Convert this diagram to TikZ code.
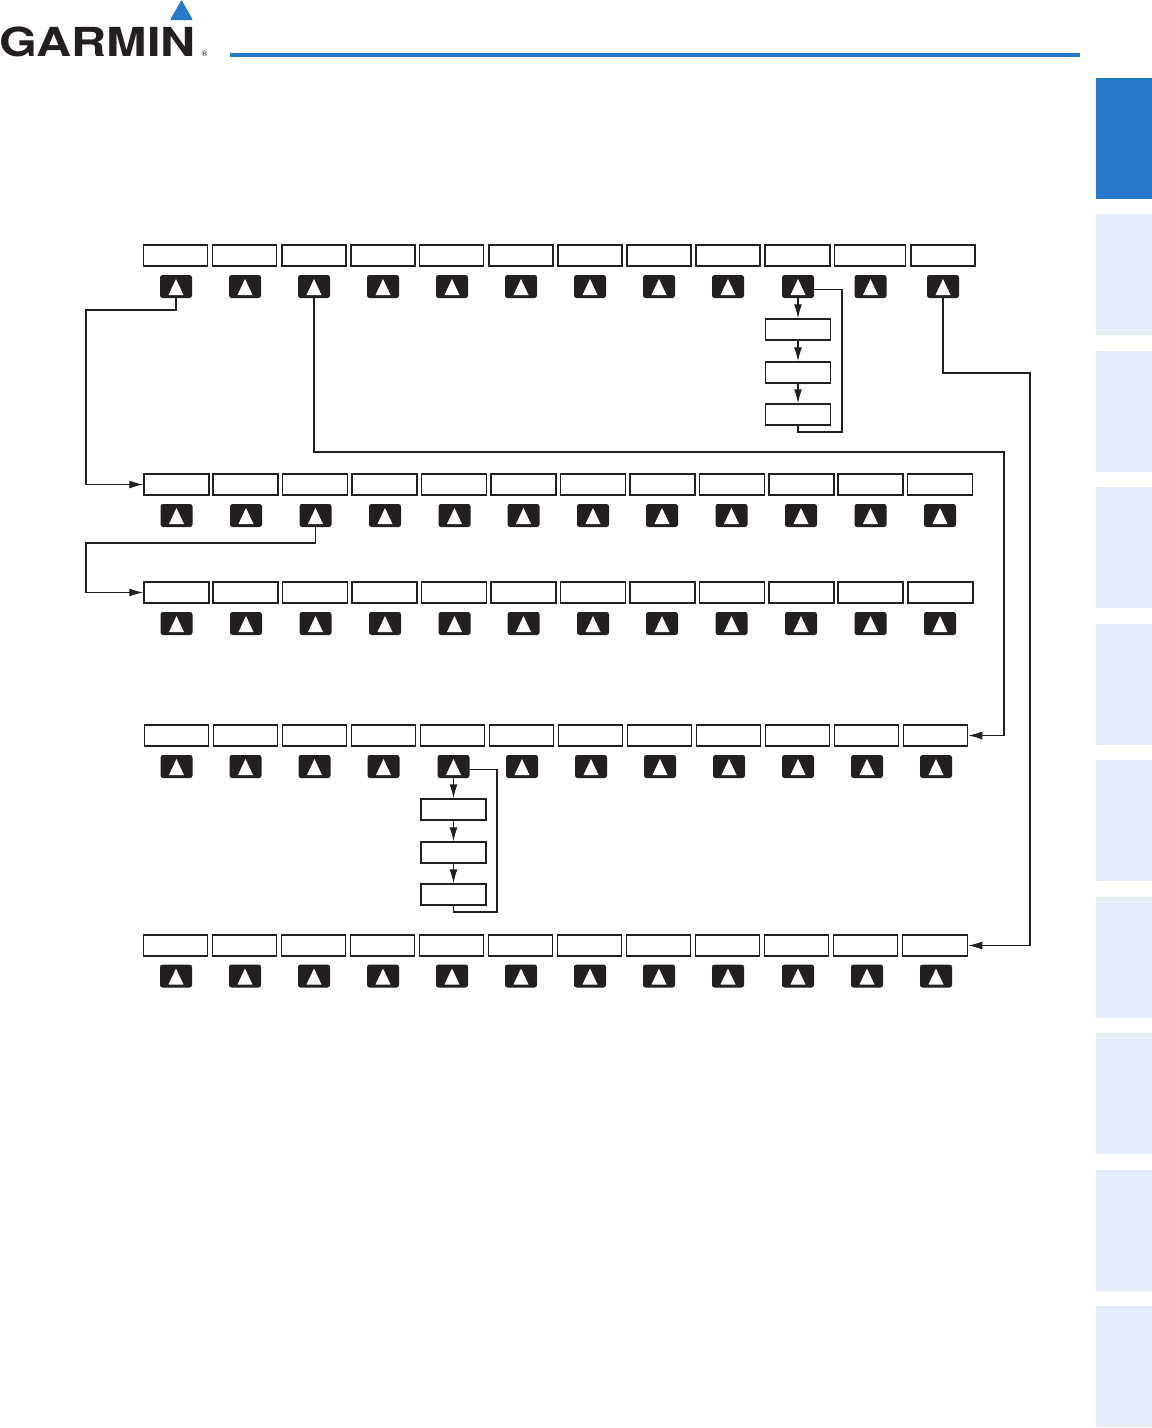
\documentclass[tikz,border=0pt]{standalone}
\usepackage{fontspec}
\usepackage{xcolor}
\usetikzlibrary{arrows.meta}
\setmainfont{TeX Gyre Heros}

\definecolor{inkblack}{HTML}{231F20}
\definecolor{garminblue}{HTML}{2878C8}
\definecolor{tabblue}{HTML}{E6ECF8}

\tikzset{
  softbox/.style={rectangle, draw=inkblack, fill=white, line width=1.5pt, inner sep=0pt, minimum width=64pt, minimum height=21pt},
  softkey/.style={rectangle, fill=inkblack, rounded corners=2.5pt, inner sep=0pt, minimum width=32pt, minimum height=23pt,
    path picture={\fill[white, sharp corners] ([xshift=-7.5pt,yshift=-8.5pt]path picture bounding box.center) -- ([xshift=7.5pt,yshift=-8.5pt]path picture bounding box.center) -- ([yshift=7.5pt]path picture bounding box.center) -- cycle;}},
  link/.style={draw=inkblack, line width=1.1pt},
  linkarrow/.style={link, -{Latex[length=14pt,width=8pt]}},
  sidetab/.style={rectangle, fill=tabblue, inner sep=0pt, minimum width=56pt, anchor=north west}
}

\begin{document}
\begin{tikzpicture}[x=1pt, y=-1pt]
\useasboundingbox (0,0) rectangle (1152,1428);

% header
\node[inner sep=0pt, anchor=base west, xscale=1.215, text=inkblack, font=\fontsize{40}{40}\selectfont\bfseries] (logo) at (-1,56) {GARMIN};
\node[inner sep=0pt, text=inkblack, font=\fontsize{8}{8}\selectfont] (regmark) at (204.5,54) {®};
\fill[garminblue, rounded corners=1pt] (170,20) -- (181.5,0) -- (193,20) -- cycle;
\fill[garminblue] (230,53) rectangle (1080,57);

% side tabs
\node[sidetab, fill=garminblue, minimum height=121pt] (tab1) at (1096,78) {};
\node[sidetab, minimum height=121pt] (tab2) at (1096,214) {};
\node[sidetab, minimum height=121pt] (tab3) at (1096,351) {};
\node[sidetab, minimum height=121pt] (tab4) at (1096,487) {};
\node[sidetab, minimum height=121pt] (tab5) at (1096,624) {};
\node[sidetab, minimum height=121pt] (tab6) at (1096,760) {};
\node[sidetab, minimum height=121pt] (tab7) at (1096,897) {};
\node[sidetab, minimum height=121pt] (tab8) at (1096,1033) {};
\node[sidetab, minimum height=121pt] (tab9) at (1096,1170) {};
\node[sidetab, minimum height=121pt] (tab10) at (1096,1306) {};

% first row
\node[softbox] (a1) at (175.5,255.5) {};
\node[softbox] (a2) at (244.5,255.5) {};
\node[softbox] (a3) at (314,255.5) {};
\node[softbox] (a4) at (383,255.5) {};
\node[softbox] (a5) at (451.5,255.5) {};
\node[softbox] (a6) at (521,255.5) {};
\node[softbox] (a7) at (590,255.5) {};
\node[softbox] (a8) at (659,255.5) {};
\node[softbox] (a9) at (728,255.5) {};
\node[softbox, minimum width=65pt] (a10) at (797.5,255.5) {};
\node[softbox, minimum width=71pt] (a11) at (870,255.5) {};
\node[softbox] (a12) at (943,255.5) {};

\node[softkey] (ka1) at (176,286.5) {};
\node[softkey] (ka2) at (245,286.5) {};
\node[softkey] (ka3) at (314,286.5) {};
\node[softkey] (ka4) at (383,286.5) {};
\node[softkey] (ka5) at (452,286.5) {};
\node[softkey] (ka6) at (521,286.5) {};
\node[softkey] (ka7) at (590,286.5) {};
\node[softkey] (ka8) at (659,286.5) {};
\node[softkey] (ka9) at (728,286.5) {};
\node[softkey] (ka10) at (798,286.5) {};
\node[softkey] (ka11) at (870.5,286.5) {};
\node[softkey] (ka12) at (943,286.5) {};

\node[softbox, minimum width=65pt] (sa1) at (798,329.5) {};
\node[softbox, minimum width=65pt] (sa2) at (798,372.5) {};
\node[softbox, minimum width=65pt] (sa3) at (798,414.5) {};

% second row
\node[softbox, minimum width=65pt] (b1) at (176.5,484.5) {};
\node[softbox, minimum width=65pt] (b2) at (245.5,484.5) {};
\node[softbox, minimum width=65pt] (b3) at (315,484.5) {};
\node[softbox, minimum width=65pt] (b4) at (384.5,484.5) {};
\node[softbox, minimum width=65pt] (b5) at (454,484.5) {};
\node[softbox, minimum width=65pt] (b6) at (523.5,484.5) {};
\node[softbox, minimum width=65pt] (b7) at (593,484.5) {};
\node[softbox, minimum width=65pt] (b8) at (662.5,484.5) {};
\node[softbox, minimum width=65pt] (b9) at (732,484.5) {};
\node[softbox, minimum width=65pt] (b10) at (801.5,484.5) {};
\node[softbox, minimum width=65pt] (b11) at (870.5,484.5) {};
\node[softbox, minimum width=65pt] (b12) at (940,484.5) {};

\node[softkey] (kb1) at (176.5,515.5) {};
\node[softkey] (kb2) at (246,515.5) {};
\node[softkey] (kb3) at (315.5,515.5) {};
\node[softkey] (kb4) at (385,515.5) {};
\node[softkey] (kb5) at (454.5,515.5) {};
\node[softkey] (kb6) at (523.5,515.5) {};
\node[softkey] (kb7) at (593,515.5) {};
\node[softkey] (kb8) at (662,515.5) {};
\node[softkey] (kb9) at (731.5,515.5) {};
\node[softkey] (kb10) at (801,515.5) {};
\node[softkey] (kb11) at (870.5,515.5) {};
\node[softkey] (kb12) at (940,515.5) {};

% third row
\node[softbox, minimum width=65pt] (c1) at (176.5,592.5) {};
\node[softbox, minimum width=65pt] (c2) at (245.5,592.5) {};
\node[softbox, minimum width=65pt] (c3) at (315,592.5) {};
\node[softbox, minimum width=65pt] (c4) at (384.5,592.5) {};
\node[softbox, minimum width=65pt] (c5) at (454,592.5) {};
\node[softbox, minimum width=65pt] (c6) at (523.5,592.5) {};
\node[softbox, minimum width=65pt] (c7) at (593,592.5) {};
\node[softbox, minimum width=65pt] (c8) at (662.5,592.5) {};
\node[softbox, minimum width=65pt] (c9) at (732,592.5) {};
\node[softbox, minimum width=65pt] (c10) at (801.5,592.5) {};
\node[softbox, minimum width=65pt] (c11) at (870.5,592.5) {};
\node[softbox, minimum width=65pt] (c12) at (940.5,592.5) {};

\node[softkey] (kc1) at (176.5,623.5) {};
\node[softkey] (kc2) at (246,623.5) {};
\node[softkey] (kc3) at (315.5,623.5) {};
\node[softkey] (kc4) at (385,623.5) {};
\node[softkey] (kc5) at (454.5,623.5) {};
\node[softkey] (kc6) at (523.5,623.5) {};
\node[softkey] (kc7) at (593,623.5) {};
\node[softkey] (kc8) at (662,623.5) {};
\node[softkey] (kc9) at (731.5,623.5) {};
\node[softkey] (kc10) at (801,623.5) {};
\node[softkey] (kc11) at (870.5,623.5) {};
\node[softkey] (kc12) at (940,623.5) {};

% fourth row
\node[softbox] (d1) at (176.5,735.5) {};
\node[softbox] (d2) at (245.5,735.5) {};
\node[softbox] (d3) at (314.5,735.5) {};
\node[softbox] (d4) at (383.5,735.5) {};
\node[softbox] (d5) at (452.5,735.5) {};
\node[softbox] (d6) at (521.5,735.5) {};
\node[softbox] (d7) at (590.5,735.5) {};
\node[softbox] (d8) at (659.5,735.5) {};
\node[softbox] (d9) at (728.5,735.5) {};
\node[softbox] (d10) at (797.5,735.5) {};
\node[softbox] (d11) at (866.5,735.5) {};
\node[softbox] (d12) at (935.5,735.5) {};

\node[softkey] (kd1) at (176.5,766.5) {};
\node[softkey] (kd2) at (245.5,766.5) {};
\node[softkey] (kd3) at (314.5,766.5) {};
\node[softkey] (kd4) at (383.5,766.5) {};
\node[softkey] (kd5) at (453.5,766.5) {};
\node[softkey] (kd6) at (522,766.5) {};
\node[softkey] (kd7) at (591,766.5) {};
\node[softkey] (kd8) at (660,766.5) {};
\node[softkey] (kd9) at (729,766.5) {};
\node[softkey] (kd10) at (798,766.5) {};
\node[softkey] (kd11) at (867,766.5) {};
\node[softkey] (kd12) at (936,766.5) {};

\node[softbox, minimum width=65pt] (sd1) at (453.5,809.5) {};
\node[softbox, minimum width=65pt] (sd2) at (453.5,852.5) {};
\node[softbox, minimum width=65pt] (sd3) at (453.5,894.5) {};

% fifth row
\node[softbox] (e1) at (175.5,945.5) {};
\node[softbox] (e2) at (244.5,945.5) {};
\node[softbox] (e3) at (313.5,945.5) {};
\node[softbox] (e4) at (382.5,945.5) {};
\node[softbox] (e5) at (451.5,945.5) {};
\node[softbox] (e6) at (520.5,945.5) {};
\node[softbox] (e7) at (589.5,945.5) {};
\node[softbox] (e8) at (658.5,945.5) {};
\node[softbox] (e9) at (727.5,945.5) {};
\node[softbox] (e10) at (796.5,945.5) {};
\node[softbox] (e11) at (865.5,945.5) {};
\node[softbox, minimum width=65pt] (e12) at (935,945.5) {};

\node[softkey] (ke1) at (176,976) {};
\node[softkey] (ke2) at (245,976) {};
\node[softkey] (ke3) at (314,976) {};
\node[softkey] (ke4) at (383,976) {};
\node[softkey] (ke5) at (452,976) {};
\node[softkey] (ke6) at (521,976) {};
\node[softkey] (ke7) at (590,976) {};
\node[softkey] (ke8) at (659,976) {};
\node[softkey] (ke9) at (728,976) {};
\node[softkey] (ke10) at (798,976) {};
\node[softkey] (ke11) at (867,976) {};
\node[softkey] (ke12) at (936,976) {};

% bends of the long connectors
\coordinate (leftup) at (86,310);
\coordinate (leftlow) at (86,543);
\coordinate (rightup) at (1004,452);
\coordinate (rightlow) at (1030,373);
\coordinate (loopa) at (842,432);
\coordinate (loopd) at (497,912);

\draw[linkarrow] (ka1.south) |- (leftup) |- (b1.west);
\draw[linkarrow] (kb3.south) |- (leftlow) |- (c1.west);
\draw[linkarrow] (ka3.south) |- (rightup) |- (d12.east);
\draw[linkarrow] (ka12.south) |- (rightlow) |- (e12.east);

\draw[linkarrow] (ka10) -- (sa1);
\draw[linkarrow] (sa1) -- (sa2);
\draw[linkarrow] (sa2) -- (sa3);
\draw[link] (sa3.south) |- (loopa) |- ([yshift=-3pt]ka10.east);

\draw[linkarrow] (kd5) -- (sd1);
\draw[linkarrow] (sd1) -- (sd2);
\draw[linkarrow] (sd2) -- (sd3);
\draw[link] (sd3.south) |- (loopd) |- ([yshift=-3pt]kd5.east);
\end{tikzpicture}
\end{document}
